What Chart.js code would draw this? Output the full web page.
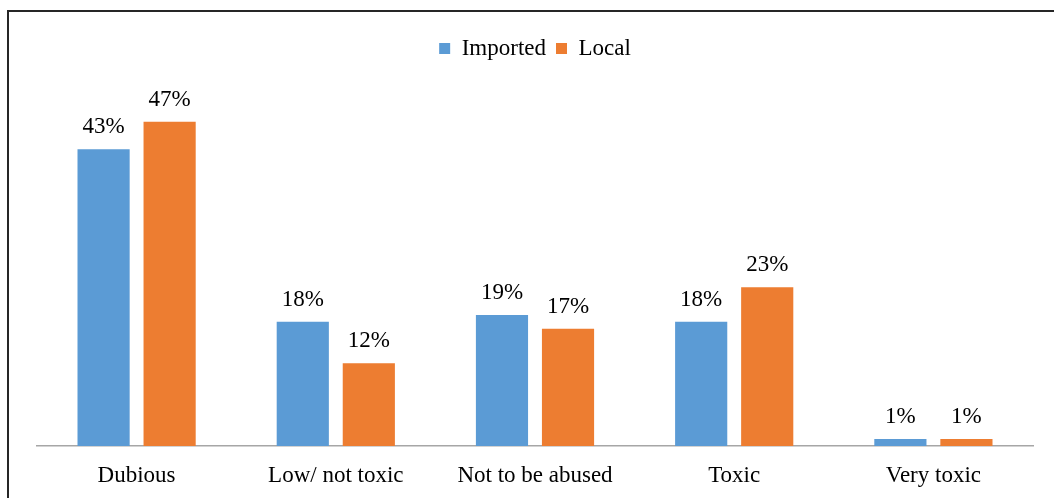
<!DOCTYPE html>
<html>
<head>
<meta charset="utf-8">
<script src="https://cdn.jsdelivr.net/npm/chart.js@4/dist/chart.umd.min.js"></script>
<style>
  html, body { margin: 0; padding: 0; background: #fff; }
  #wrap { position: relative; width: 1054px; height: 498px; overflow: hidden; }
  #frame {
    position: absolute; left: 7px; top: 10px; width: 1100px; height: 600px;
    border-left: 2px solid #262626; border-top: 2px solid #262626;
  }
  #chart { position: absolute; left: 0; top: 0; }
</style>
</head>
<body>
<div id="wrap">
  <div id="frame"></div>
  <canvas id="chart" width="1054" height="498"></canvas>
</div>
<script>
// Toxicity perception, percent of respondents
const categories = ['Dubious', 'Low/ not toxic', 'Not to be abused', 'Toxic', 'Very toxic'];
const importedValues = [43, 18, 19, 18, 1];
const localValues = [47, 12, 17, 23, 1];

const serif = '"Liberation Serif", "Times New Roman", serif';

// writes "NN%" above every bar
const valueLabels = {
    id: 'valueLabels',
    afterDatasetsDraw(chart) {
        const ctx = chart.ctx;
        ctx.save();
        ctx.font = '23px ' + serif;
        ctx.fillStyle = '#000';
        ctx.textAlign = 'center';
        ctx.textBaseline = 'alphabetic';
        chart.data.datasets.forEach((ds, i) => {
            chart.getDatasetMeta(i).data.forEach((bar, j) => {
                ctx.fillText(ds.data[j] + '%', bar.x, bar.y - 16);
            });
        });
        ctx.restore();
    }
};

const chart = new Chart(document.getElementById('chart').getContext('2d'), {
    type: 'bar',
    data: {
        labels: categories,
        datasets: [{
            label: 'Imported',
            data: importedValues,
            backgroundColor: '#5b9bd5',
            barPercentage: 0.79,
            categoryPercentage: 0.663
        }, {
            label: 'Local',
            data: localValues,
            backgroundColor: '#ed7d31',
            barPercentage: 0.79,
            categoryPercentage: 0.663
        }]
    },
    options: {
        responsive: false,
        animation: false,
        layout: {
            padding: { left: 37, right: 21, top: 27, bottom: 0 }
        },
        scales: {
            x: {
                grid: { display: false, drawTicks: false },
                border: { display: true, color: '#a6a6a6', width: 1.5 },
                ticks: {
                    color: '#000',
                    padding: 16,
                    font: { family: serif, size: 23 }
                },
                // fixed band under the axis line for the category names
                afterFit(scale) {
                    scale.height = 52;
                }
            },
            y: {
                display: false,
                min: 0,
                max: 54.5
            }
        },
        plugins: {
            legend: {
                display: true,
                position: 'top',
                labels: {
                    color: '#000',
                    boxWidth: 11,
                    boxHeight: 11,
                    padding: 10,
                    font: { family: serif, size: 23 }
                }
            },
            tooltip: { enabled: false }
        }
    },
    plugins: [valueLabels]
});
</script>
</body>
</html>
